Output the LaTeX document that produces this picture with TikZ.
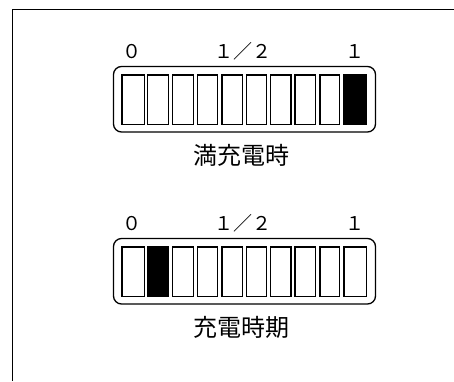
\documentclass[tikz,border=0pt]{standalone}
\usepackage{fontspec}
\newfontfamily\jpfont{Noto Sans CJK JP}
\begin{document}
\begin{tikzpicture}[x=1pt,y=-1pt,
  line/.style={line width=1.3pt,black},
  cell/.style={line width=1.3pt,draw=black,fill=white},
  fullcell/.style={line width=1.3pt,draw=black,fill=black},
  scalelbl/.style={font=\jpfont\fontsize{19}{19}\selectfont,anchor=base,inner sep=0pt},
  titlelbl/.style={font=\jpfont\fontsize{24}{24}\selectfont,anchor=base,inner sep=0pt}]
\useasboundingbox (0,0) rectangle (454,381);
% frame
\draw[line] (12.3,381) -- (12.3,9.5) -- (454,9.5);
% gauges
\foreach \dy/\full/\title/\nm in {0/10/満充電時/a, 172/2/充電時期/b}{
  \begin{scope}[yshift=-\dy pt]
    \draw[line,rounded corners=8pt] (113.5,66.5) rectangle (375.5,132);
    \foreach \l/\r [count=\i] in {122/144.3,147.7/168.7,172.7/193.3,197.3/217.3,222/242.7,246.7/266.7,270.7/291,295/315.7,320/339.3,344/366.7}{
      \ifnum\i=\full
        \draw[fullcell] (\l,75) rectangle (\r,124.5);
      \else
        \draw[cell] (\l,75) rectangle (\r,124.5);
      \fi
    }
    \node[scalelbl] (\nm0) at (132,58.5) {０};
    \node[scalelbl] (\nm h) at (242.5,58.5) {１／２};
    \node[scalelbl] (\nm1) at (355,58.5) {１};
    \node[titlelbl] (\nm t) at (241.5,164) {\title};
  \end{scope}
}
\end{tikzpicture}
\end{document}
